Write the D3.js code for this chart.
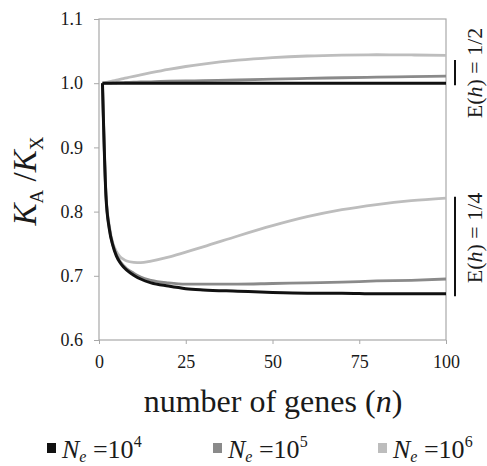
<!DOCTYPE html>
<html>
<head>
<meta charset="utf-8">
<script src="https://cdn.jsdelivr.net/npm/d3@7"></script>
<style>
  body { margin: 0; background: #fff; }
  text, tspan { font-family: "Liberation Serif", "Times New Roman", Times, "Nimbus Roman", "DejaVu Serif", serif; fill: #1a1a1a; }
</style>
</head>
<body>
<script>
'use strict';

const width = 487, height = 466;
const serif = '"Liberation Serif", "Times New Roman", Times, "Nimbus Roman", "DejaVu Serif", serif';

// number of genes
const nValues = [1, 2, 3, 4, 5, 6, 7, 8, 10, 12, 15, 20, 25, 30, 40, 50, 60, 70, 80, 90, 100];

// E(h) = 1/2
const half_Ne4 = [1, 1, 1, 1, 1, 1, 1, 1, 1, 1, 1, 1, 1, 1, 1, 1, 1, 1, 1, 1, 1];
const half_Ne5 = [1, 1, 1, 1.0005, 1.0007, 1.001, 1.001, 1.0012, 1.0015, 1.002, 1.0022, 1.003, 1.0035, 1.004, 1.005, 1.0063, 1.0075, 1.0085, 1.0095, 1.0103, 1.011];
const half_Ne6 = [1, 1.0012, 1.0024, 1.0036, 1.0048, 1.006, 1.0072, 1.0084, 1.0108, 1.013, 1.0163, 1.0215, 1.026, 1.0298, 1.0358, 1.0398, 1.0424, 1.0438, 1.0443, 1.044, 1.0432];

// E(h) = 1/4
const quarter_Ne4 = [1, 0.825, 0.772, 0.747, 0.731, 0.721, 0.714, 0.709, 0.701, 0.695, 0.689, 0.684, 0.680, 0.678, 0.676, 0.674, 0.673, 0.673, 0.672, 0.672, 0.672];
const quarter_Ne5 = [1, 0.826, 0.773, 0.748, 0.733, 0.723, 0.716, 0.711, 0.704, 0.698, 0.693, 0.689, 0.687, 0.687, 0.687, 0.688, 0.689, 0.690, 0.692, 0.693, 0.695];
const quarter_Ne6 = [1, 0.828, 0.777, 0.751, 0.738, 0.730, 0.726, 0.723, 0.721, 0.7205, 0.723, 0.729, 0.737, 0.745, 0.762, 0.778, 0.792, 0.803, 0.811, 0.817, 0.821];

const seriesColors = ['#111111', '#8a8a8a', '#bdbdbd'];
const seriesExp = ['4', '5', '6'];

const xTicks = [0, 25, 50, 75, 100];
const yTicks = [0.6, 0.7, 0.8, 0.9, 1.0, 1.1];

// bracket ranges beside each group
const groupLabels = ['1/2', '1/4'];
const groupBars = [[1.036, 0.997], [0.823, 0.668]];

const margin = {left: 99, top: 19, right: 41, bottom: 126};
const x = d3.scaleLinear().domain([0, 100]).range([margin.left, width - margin.right]);
const y = d3.scaleLinear().domain([0.6, 1.1]).range([height - margin.bottom, margin.top]);

const svg = d3.select('body').append('svg')
	.attr('width', width)
	.attr('height', height);

// frame
svg.append('rect')
	.attr('x', x(0)).attr('y', y(1.1))
	.attr('width', x(100) - x(0)).attr('height', y(0.6) - y(1.1))
	.attr('fill', 'none').attr('stroke', '#a8a8a8').attr('stroke-width', 1.2);

// y axis
const yAxis = svg.append('g')
	.attr('transform', `translate(${x(0)},0)`)
	.attr('font-family', serif)
	.call(d3.axisLeft(y).tickValues(yTicks).tickFormat(d3.format('.1f')).tickSize(5).tickPadding(11));
yAxis.select('.domain').remove();
yAxis.selectAll('line').attr('stroke', '#a8a8a8');
yAxis.selectAll('text').style('font-size', '18px').attr('fill', '#1a1a1a');

// x axis
const xAxis = svg.append('g')
	.attr('transform', `translate(0,${y(0.6)})`)
	.attr('font-family', serif)
	.call(d3.axisBottom(x).tickValues(xTicks).tickSize(4).tickPadding(11));
xAxis.select('.domain').remove();
xAxis.selectAll('line').attr('stroke', '#a8a8a8');
xAxis.selectAll('text').style('font-size', '18px').attr('fill', '#1a1a1a');

// curves
const line = d3.line()
	.x((d, i) => x(nValues[i]))
	.y(d => y(d))
	.curve(d3.curveMonotoneX);

const drawOrder = [
	[half_Ne6, 2], [quarter_Ne6, 2],
	[half_Ne5, 1], [quarter_Ne5, 1],
	[half_Ne4, 0], [quarter_Ne4, 0]
];
drawOrder.forEach(([vals, c]) => {
	svg.append('path')
		.datum(vals)
		.attr('d', line)
		.attr('fill', 'none')
		.attr('stroke', seriesColors[c])
		.attr('stroke-width', c === 0 ? 3 : 2.8)
		.attr('stroke-linejoin', 'round');
});

// group annotations on the right
groupBars.forEach((b, i) => {
	svg.append('line')
		.attr('x1', 455).attr('x2', 455)
		.attr('y1', y(b[0])).attr('y2', y(b[1]))
		.attr('stroke', '#111').attr('stroke-width', 2);
	const cy = i === 0 ? 73 : 238;
	const t = svg.append('text')
		.attr('transform', `translate(482,${cy}) rotate(-90)`)
		.attr('text-anchor', 'middle')
		.style('font-size', '22px');
	t.append('tspan').text('E(');
	t.append('tspan').style('font-style', 'italic').text('h');
	t.append('tspan').text(') = ' + groupLabels[i]);
});

// y title
const yt = svg.append('text')
	.attr('transform', 'translate(36,181) rotate(-90)')
	.attr('text-anchor', 'middle')
	.style('font-size', '33px');
yt.append('tspan').style('font-style', 'italic').text('K');
yt.append('tspan').attr('dy', 7).style('font-size', '19px').text('A');
yt.append('tspan').attr('dy', -7).text(' /');
yt.append('tspan').style('font-style', 'italic').text('K');
yt.append('tspan').attr('dy', 7).style('font-size', '19px').text('X');

// x title
const xt = svg.append('text')
	.attr('x', 273).attr('y', 412)
	.attr('text-anchor', 'middle')
	.style('font-size', '32px');
xt.append('tspan').text('number of genes (');
xt.append('tspan').style('font-style', 'italic').text('n');
xt.append('tspan').text(')');

// legend
const legendX = [47, 213, 378];
seriesColors.forEach((c, i) => {
	const g = svg.append('g').attr('transform', `translate(${legendX[i]},448)`);
	g.append('rect')
		.attr('x', 0).attr('y', -5)
		.attr('width', 9).attr('height', 10)
		.attr('fill', c);
	const t = g.append('text').attr('x', 15).attr('y', 10).style('font-size', '26px');
	t.append('tspan').style('font-style', 'italic').text('N');
	t.append('tspan').attr('dy', 4).style('font-style', 'italic').style('font-size', '16px').text('e');
	t.append('tspan').attr('dy', -4).text(' =10');
	t.append('tspan').attr('dy', -11).style('font-size', '16px').text(seriesExp[i]);
});
</script>
</body>
</html>
